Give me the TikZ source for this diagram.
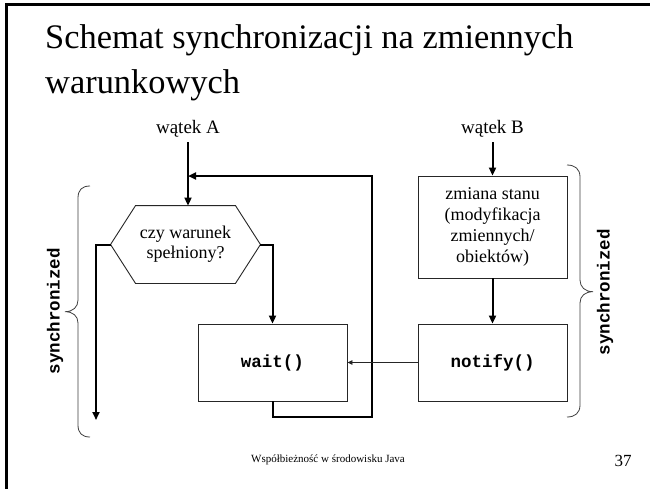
\documentclass[tikz,border=0pt]{standalone}
\usepackage{fontspec}
\setmainfont{Liberation Serif}
\setmonofont{Liberation Mono}
\usetikzlibrary{arrows.meta,calc}
\begin{document}
\begin{tikzpicture}[x=1pt,y=-1pt,
  conn/.style={line width=2pt, line join=miter, -{Triangle[length=8pt,width=7pt]}},
  thinarrow/.style={line width=0.9pt, draw=black!85, -{Triangle[length=5pt,width=4.5pt]}},
  boxbase/.style={line width=0.9pt, minimum width=149pt, minimum height=77pt, inner sep=0pt, align=center},
  textbox/.style={boxbase, draw=black!85, font=\fontsize{18}{21}\selectfont},
  codebox/.style={boxbase, draw=black!85, font=\fontsize{17.5}{21}\selectfont\ttfamily\bfseries},
  hexbox/.style={boxbase, font=\fontsize{18}{20}\selectfont},
  hexline/.style={line width=0.9pt, draw=black!85},
  bracestyle/.style={draw=black!75, line width=0.8pt},
  synctext/.style={rotate=90, inner sep=0pt, font=\fontsize{17.5}{20}\selectfont\ttfamily\bfseries},
  titletext/.style={anchor=base west, inner sep=0pt, font=\fontsize{34.4}{40}\selectfont},
  threadlabel/.style={anchor=base, inner sep=0pt, font=\fontsize{19}{22}\selectfont}
]
\useasboundingbox (0,0) rectangle (650,488);
\fill[white] (0,0) rectangle (650,488);
% slide frame
\draw[line width=2.5pt] (6.7,490) -- (6.7,4.5) -- (652,4.5);

% title
\node[titletext] (t1) at (45,48) {Schemat synchronizacji na zmiennych};
\node[titletext] (t2) at (45,93) {warunkowych};

% thread labels
\node[threadlabel] (wA) at (188,133) {wątek A};
\node[threadlabel] (wB) at (492.5,133) {wątek B};

% boxes
\node[textbox, minimum height=102pt] (state) at (492.5,227) {zmiana stanu\\(modyfikacja\\zmiennych/\\obiektów)};
\node[codebox] (notify) at (492.5,362.5) {notify()};
\node[codebox] (wait) at (272.5,362.5) {wait()};
\node[hexbox] (hex) at (185.5,244.5) {czy warunek\\spełniony?};
\draw[hexline] (hex.west) -- ($(hex.north west)+(25,0)$) -- ($(hex.north east)+(-25,0)$) -- (hex.east)
  -- ($(hex.south east)+(-25,0)$) -- ($(hex.south west)+(25,0)$) -- cycle;

% connectors
\coordinate (sA) at (188,142);
\coordinate (sB) at (492.5,142);
\coordinate (lend) at (96,420);
\coordinate (lb) at (372,417);
\coordinate (lt) at (372,176);
\coordinate (jA) at (188,176);
\draw[conn] (sA) -- (sA |- hex.north);
\draw[conn] (sB) -- (state.north);
\draw[conn] (state.south) -- (notify.north);
\draw[conn] (hex.east) -| (wait.north);
\draw[conn] (hex.west) -| (lend);
\draw[conn] (wait.south) |- (lb) -- (lt) -- (jA);
\draw[thinarrow] (notify.west) -- (wait.east);

% braces
\draw[bracestyle] (90,186) .. controls (82,186) and (78,190) .. (78,198) -- (78,300)
  .. controls (78,307) and (73,311.7) .. (65,311.7) .. controls (73,311.7) and (78,316) .. (78,323)
  -- (78,425) .. controls (78,433) and (82,437) .. (90,437);
\draw[bracestyle] (567,165) .. controls (575,165) and (580,169) .. (580,177) -- (580,280)
  .. controls (580,287) and (585,291.7) .. (593,291.7) .. controls (585,291.7) and (580,296) .. (580,303)
  -- (580,405) .. controls (580,413) and (575,417) .. (567,417);
\node[synctext] (syncL) at (55,311) {synchronized};
\node[synctext] (syncR) at (605,292) {synchronized};

% footer
\node[font=\fontsize{11}{13}\selectfont, inner sep=0pt] (foot) at (328,460) {Współbieżność w środowisku Java};
\node[font=\fontsize{17}{20}\selectfont, inner sep=0pt] (num) at (623,461) {37};
\end{tikzpicture}
\end{document}
